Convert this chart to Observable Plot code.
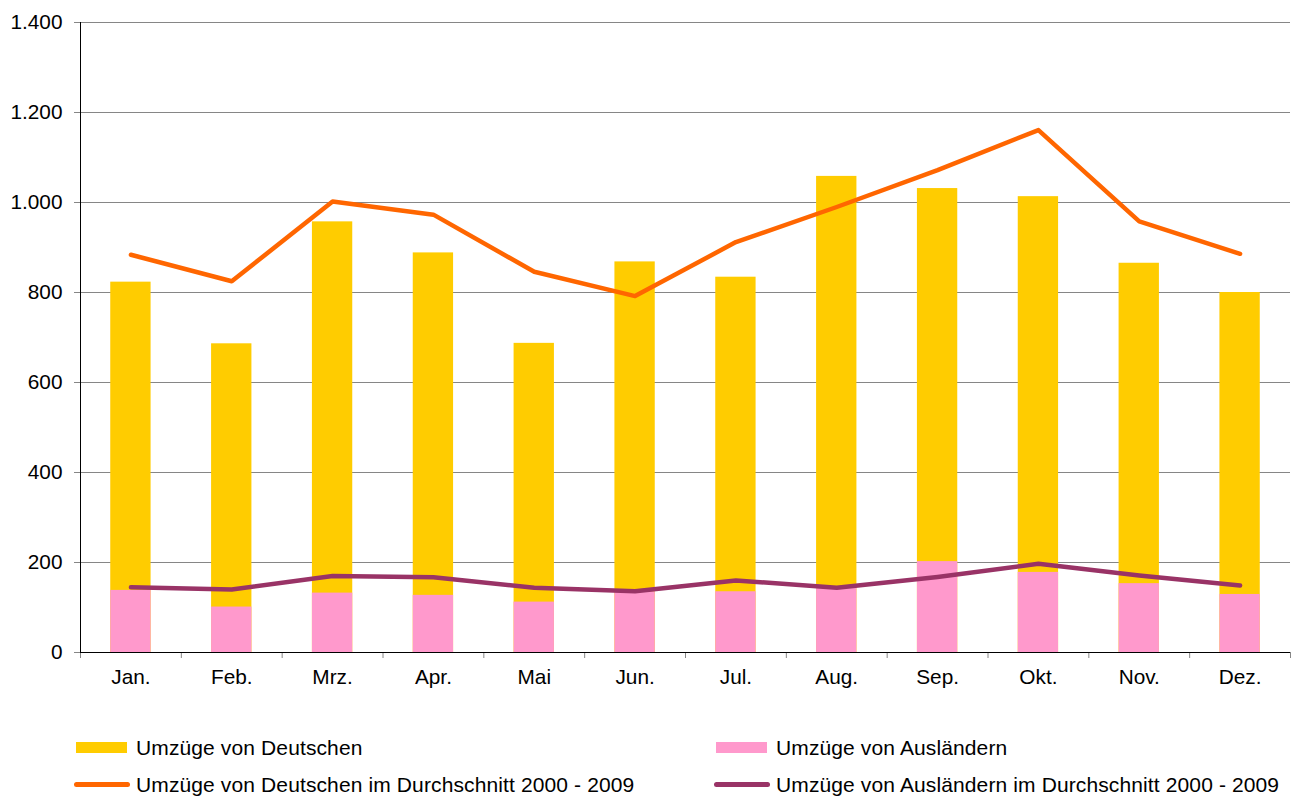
<!DOCTYPE html>
<html>
<head>
<meta charset="utf-8">
<script src="https://cdn.jsdelivr.net/npm/d3@7"></script>
<script src="https://cdn.jsdelivr.net/npm/@observablehq/plot@0.6"></script>
<style>
  html, body { margin: 0; padding: 0; background: #fff; }
  body { width: 1303px; height: 798px; position: relative; overflow: hidden; font-family: "Liberation Sans", Arial, sans-serif; }
  #chart svg { display: block; }
  .leg { position: absolute; font-size: 21px; letter-spacing: 0.12px; color: #000; white-space: nowrap; line-height: 1; }
  .leg .sw { position: absolute; }
  .leg .tx { position: absolute; top: 0; }
</style>
</head>
<body>
<div id="chart"></div>
<div id="legend"></div>
<script>
const months = ["Jan.", "Feb.", "Mrz.", "Apr.", "Mai", "Jun.", "Jul.", "Aug.", "Sep.", "Okt.", "Nov.", "Dez."];
const deutsche = [823, 686, 957, 888, 687, 868, 834, 1058, 1031, 1013, 865, 800];
const auslaender = [138, 101, 132, 127, 112, 135, 135, 143, 202, 178, 153, 129];
const avgDeutsche = [884, 825, 1002, 973, 846, 792, 912, 990, 1072, 1161, 958, 886];
const avgAuslaender = [145, 140, 170, 167, 144, 136, 160, 144, 168, 197, 171, 149];
const yTicks = [0, 200, 400, 600, 800, 1000, 1200, 1400];

const seriesNames = {
  d: "Umzüge von Deutschen",
  a: "Umzüge von Ausländern",
  ad: "Umzüge von Deutschen im Durchschnitt 2000 - 2009",
  aa: "Umzüge von Ausländern im Durchschnitt 2000 - 2009"
};
const colors = { d: "#FFCC00", a: "#FF99CC", ad: "#FF6600", aa: "#993366" };

const rows = months.map((m, i) => ({
  month: m, d: deutsche[i], a: auslaender[i], ad: avgDeutsche[i], aa: avgAuslaender[i]
}));

const W = 1303, H = 700, mL = 80, mR = 13, mT = 22, mB = 48;
const step = (W - mL - mR) / months.length;
const de = d3.formatLocale({decimal: ",", thousands: ".", grouping: [3], currency: ["", " €"]});
const fmt = de.format(",");

const plot = Plot.plot({
  width: W,
  height: H,
  marginLeft: mL,
  marginRight: mR,
  marginTop: mT,
  marginBottom: mB,
  style: { fontFamily: "'Liberation Sans', Arial, sans-serif", fontSize: "20.8px", color: "#000", background: "#fff" },
  x: { domain: months, paddingInner: 0.6, paddingOuter: 0.3, round: false, label: null },
  y: { domain: [0, 1400], label: null },
  marks: [
    Plot.gridY(yTicks, { stroke: "#868686", strokeOpacity: 1, strokeWidth: 1 }),
    Plot.axisY(yTicks, { tickSize: 6, tickPadding: 12, tickFormat: fmt, stroke: "#868686", label: null }),
    Plot.axisX({ tickSize: 0, tickPadding: 17, label: null }),
    Plot.barY(rows, { x: "month", y: "d", fill: colors.d }),
    Plot.barY(rows, { x: "month", y: "a", fill: colors.a }),
    // axis lines and category boundary ticks
    Plot.ruleX([months[0]], { dx: -step / 2, stroke: "#000", strokeWidth: 1 }),
    Plot.ruleX(months, { y1: 0, y2: 0, dx: -step / 2, insetBottom: -6, stroke: "#868686" }),
    Plot.ruleX([months[months.length - 1]], { y1: 0, y2: 0, dx: step / 2, insetBottom: -6, stroke: "#868686" }),
    Plot.ruleY([0], { stroke: "#000", strokeWidth: 1.2 }),
    Plot.lineY(rows, { x: "month", y: "aa", stroke: colors.aa, strokeWidth: 4.5, strokeLinejoin: "round", strokeLinecap: "round" }),
    Plot.lineY(rows, { x: "month", y: "ad", stroke: colors.ad, strokeWidth: 4.5, strokeLinejoin: "round", strokeLinecap: "round" })
  ]
});
document.getElementById("chart").appendChild(plot);

// Legend (HTML, below the SVG)
const legendItems = [
  { key: "d", type: "rect", left: 76, top: 737 },
  { key: "a", type: "rect", left: 716, top: 737 },
  { key: "ad", type: "line", left: 74, top: 774 },
  { key: "aa", type: "line", left: 714, top: 774 }
];
const legend = document.getElementById("legend");
for (const it of legendItems) {
  const el = document.createElement("div");
  el.className = "leg";
  el.style.left = it.left + "px";
  el.style.top = it.top + "px";
  const sw = document.createElement("div");
  sw.className = "sw";
  sw.style.background = colors[it.key];
  if (it.type === "rect") {
    sw.style.left = "0px"; sw.style.top = "5px"; sw.style.width = "51px"; sw.style.height = "11px";
  } else {
    sw.style.left = "0px"; sw.style.top = "8px"; sw.style.width = "56px"; sw.style.height = "5px"; sw.style.borderRadius = "3px";
  }
  const tx = document.createElement("span");
  tx.className = "tx";
  tx.style.left = (it.type === "rect" ? 60 : 62) + "px";
  tx.textContent = seriesNames[it.key];
  el.appendChild(sw);
  el.appendChild(tx);
  legend.appendChild(el);
}
</script>
</body>
</html>
